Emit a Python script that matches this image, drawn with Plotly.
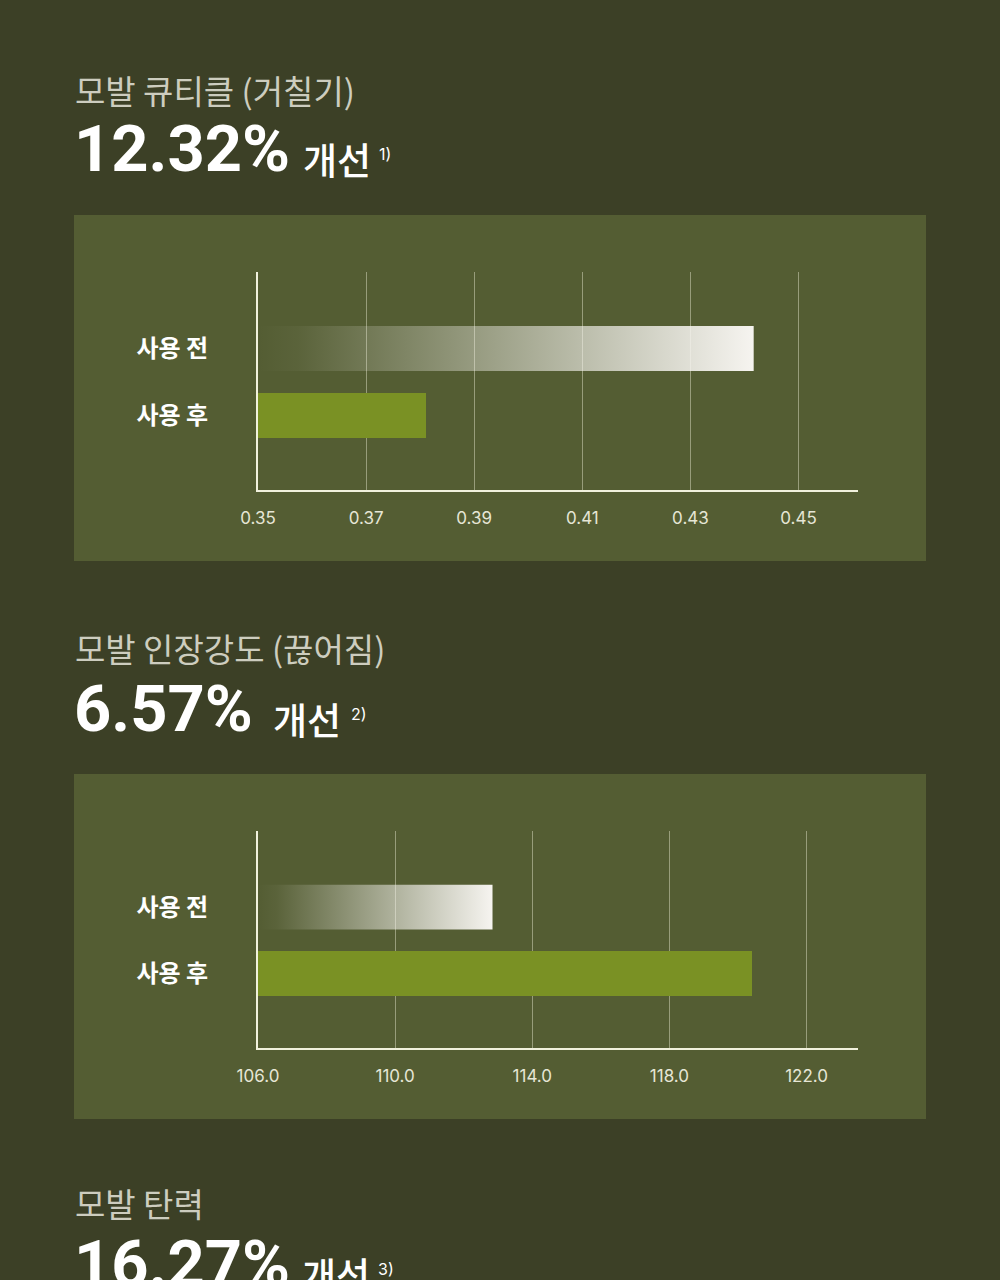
import plotly.graph_objects as go

# ---------------- data ----------------
categories = ["사용 전", "사용 후"]          # before, after

cuticle_ticks = [0.35, 0.37, 0.39, 0.41, 0.43, 0.45]
cuticle_values = [0.4417, 0.3811]            # 사용 전, 사용 후

tensile_ticks = [106.0, 110.0, 114.0, 118.0, 122.0]
tensile_values = [112.84, 120.41]            # 사용 전, 사용 후

titles = ["모발 큐티클 (거칠기)", "모발 인장강도 (끊어짐)", "모발 탄력"]
improvements = ["12.32%", "6.57%", "16.27%"]
improve_word = "개선"
notes = ["1)", "2)", "3)"]

# ---------------- style ----------------
W, H = 1000, 1280
PAGE_BG = "#3c4026"
PANEL_BG = "#545d33"
GREEN = "#7a9124"
AXIS_COL = "#f1f1dd"
GRID_COL = "rgba(235,235,210,0.45)"
TICK_COL = "#e6e6d6"
TITLE_COL = "#cdcdbf"
FONT = "Inter, 'Noto Sans CJK KR', sans-serif"
NUMFONT = "Roboto, Inter, sans-serif"
KFONT = "'Noto Sans CJK KR', Inter, sans-serif"


def py(px):
    return 1 - px / H


fig = go.Figure()

BAR_W = 0.672
YR = [-1.112, 2.142]

charts = [
    dict(vals=cuticle_values, ticks=cuticle_ticks, rng=[0.35, 0.461], fmt=".2f",
         xa="x", ya="y", top=272, bot=490, panel=(215, 561)),
    dict(vals=tensile_values, ticks=tensile_ticks, rng=[106.0, 123.5], fmt=".1f",
         xa="x2", ya="y2", top=831, bot=1048, panel=(774, 1119)),
]

shapes = []
for i, c in enumerate(charts):
    x0 = c["rng"][0]
    before, after = c["vals"]
    # gradient "before" bar
    fig.add_trace(go.Scatter(
        x=[x0, before, before, x0, x0],
        y=[1 - BAR_W / 2, 1 - BAR_W / 2, 1 + BAR_W / 2, 1 + BAR_W / 2, 1 - BAR_W / 2],
        mode="lines", line=dict(width=0, color="rgba(0,0,0,0)"),
        fill="toself",
        fillgradient=dict(type="horizontal",
                          colorscale=[[0, "rgba(245,243,238,0)"],
                                      [0.08, "rgba(245,243,238,0.04)"],
                                      [1, "rgba(246,244,240,1)"]]),
        xaxis=c["xa"], yaxis=c["ya"], showlegend=False, hoverinfo="skip",
    ))
    # "after" bar
    fig.add_trace(go.Bar(
        x=[after], y=[0], orientation="h", width=BAR_W,
        marker=dict(color=GREEN, line=dict(width=0)),
        xaxis=c["xa"], yaxis=c["ya"], showlegend=False,
    ))
    shapes.append(dict(type="rect", xref="paper", yref="paper", layer="below",
                       x0=0.074, x1=0.926, y0=py(c["panel"][1]), y1=py(c["panel"][0]),
                       fillcolor=PANEL_BG, line=dict(width=0)))

axis_common = dict(showline=True, linecolor=AXIS_COL, linewidth=2, zeroline=False,
                   automargin=False)

for i, c in enumerate(charts):
    sfx = "" if i == 0 else str(i + 1)
    fig.update_layout(**{
        "xaxis" + sfx: dict(
            domain=[0.258, 0.858], range=c["rng"], anchor="y" + sfx,
            tickvals=c["ticks"], tickformat=c["fmt"],
            showgrid=True, gridcolor=GRID_COL, gridwidth=1,
            ticks="outside", ticklen=12, tickcolor="rgba(0,0,0,0)",
            tickfont=dict(family=FONT, size=17, color=TICK_COL),
            **axis_common),
        "yaxis" + sfx: dict(
            domain=[py(c["bot"]), py(c["top"])], range=YR, anchor="x" + sfx,
            tickvals=[1, 0], ticktext=categories,
            showgrid=False, ticks="", ticklabelstandoff=43,
            tickfont=dict(family=KFONT, size=24, color="#ffffff", weight=700),
            **axis_common),
    })

annotations = []
title_y = [90, 648, 1203]
pct_y = [149, 709, 1264]
word_x = [301, 271, 300]
note_x = [377, 349, 376]
for k in range(3):
    annotations.append(dict(text=titles[k], x=0.073, y=py(title_y[k]), xref="paper", yref="paper",
                            xanchor="left", yanchor="middle", showarrow=False,
                            font=dict(family=KFONT, size=33, color=TITLE_COL)))
    annotations.append(dict(text=improvements[k], x=0.072, y=py(pct_y[k]), xref="paper", yref="paper",
                            xanchor="left", yanchor="middle", showarrow=False,
                            font=dict(family=NUMFONT, size=65, color="#ffffff", weight=700)))
    annotations.append(dict(text=improve_word, x=word_x[k] / W, y=py(pct_y[k] + 10), xref="paper",
                            yref="paper", xanchor="left", yanchor="middle", showarrow=False,
                            font=dict(family=KFONT, size=37, color="#ffffff", weight=500)))
    annotations.append(dict(text=notes[k], x=note_x[k] / W, y=py(pct_y[k] + 5), xref="paper",
                            yref="paper", xanchor="left", yanchor="middle", showarrow=False,
                            font=dict(family=FONT, size=16, color="#ffffff")))

fig.update_layout(
    width=W, height=H, margin=dict(l=0, r=0, t=0, b=0),
    paper_bgcolor=PAGE_BG, plot_bgcolor="rgba(0,0,0,0)",
    shapes=shapes, annotations=annotations, bargap=0,
    showlegend=False,
)

fig.write_html("out.html")
